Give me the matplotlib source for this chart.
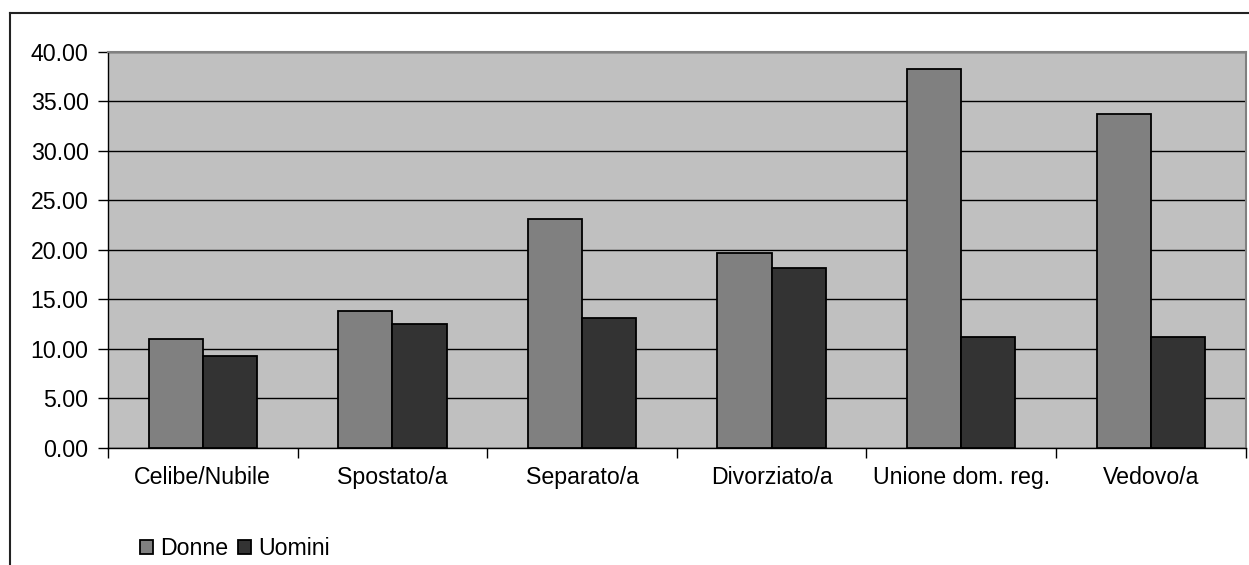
import matplotlib
matplotlib.use("Agg")
import matplotlib.pyplot as plt
import numpy as np
from matplotlib.lines import Line2D
from matplotlib.ticker import FixedLocator, NullFormatter

plt.rcParams['font.family'] = ['Liberation Sans', 'DejaVu Sans']

categories = ["Celibe/Nubile", "Spostato/a", "Separato/a", "Divorziato/a", "Unione dom. reg.", "Vedovo/a"]
donne = [11.0, 13.8, 23.1, 19.7, 38.3, 33.7]
uomini = [9.3, 12.5, 13.1, 18.2, 11.2, 11.2]
series_names = ["Donne", "Uomini"]
y_ticks = [0, 5, 10, 15, 20, 25, 30, 35, 40]

FS = 16.7
W, H = 1249, 565
fig = plt.figure(figsize=(W / 100, H / 100), dpi=100)
fig.patch.set_facecolor('white')

ax = fig.add_axes([108 / W, 1 - 447.7 / H, (1245.7 - 108) / W, (447.7 - 52) / H])
ax.set_facecolor('#C0C0C0')

x = np.arange(len(categories))
bw = 1 / 3.5
ax.bar(x - bw / 2, donne, width=bw, color='#808080', edgecolor='black', linewidth=1.3,
       label=series_names[0], zorder=3)
ax.bar(x + bw / 2, uomini, width=bw, color='#333333', edgecolor='black', linewidth=1.3,
       label=series_names[1], zorder=3)

ax.set_xlim(-0.5, len(categories) - 0.5)
ax.set_ylim(0, 40)
ax.set_yticks(y_ticks)
ax.set_yticklabels([f"{v:.2f}" for v in y_ticks], fontsize=FS)
ax.yaxis.grid(True, color='black', linewidth=1.0, zorder=1)
ax.set_axisbelow(True)

ax.xaxis.set_major_locator(FixedLocator(np.arange(len(categories) + 1) - 0.5))
ax.xaxis.set_major_formatter(NullFormatter())
ax.xaxis.set_minor_locator(FixedLocator(x))
ax.set_xticklabels(categories, minor=True, fontsize=FS)
ax.tick_params(axis='x', which='major', direction='out', length=7, width=1, color='black')
ax.tick_params(axis='x', which='minor', length=0, pad=13)
ax.tick_params(axis='y', direction='out', length=7, width=1, color='black', pad=7)

for s in ['left', 'bottom']:
    ax.spines[s].set_color('black')
    ax.spines[s].set_linewidth(1.0)
for s in ['top', 'right']:
    ax.spines[s].set_color('#808080')
    ax.spines[s].set_linewidth(1.5)

fig.legend(loc='center left', bbox_to_anchor=(140 / W, 1 - 548.5 / H), ncol=2,
           frameon=False, fontsize=FS, handlelength=0.55, handleheight=0.55,
           handletextpad=0.3, columnspacing=0.45, borderpad=0, borderaxespad=0)

# outer chart frame
fig.add_artist(Line2D([10 / W, 10 / W], [0, 1 - 13 / H], color='#222222', linewidth=1.5,
                      transform=fig.transFigure))
fig.add_artist(Line2D([10 / W, 1], [1 - 13 / H, 1 - 13 / H], color='#222222', linewidth=1.5,
                      transform=fig.transFigure))

fig.savefig('out.png', dpi=100)
